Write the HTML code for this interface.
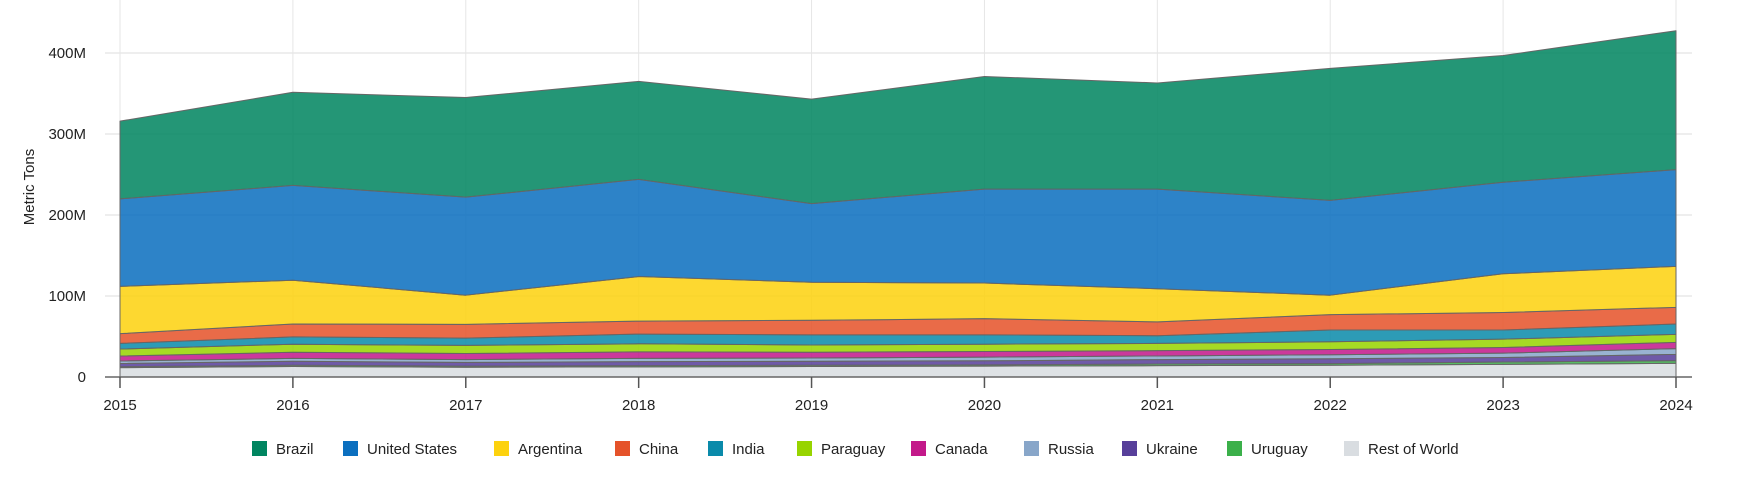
<!DOCTYPE html>
<html><head><meta charset="utf-8"><style>
body{margin:0;background:#fff;font-family:"Liberation Sans",Arial,sans-serif;}
svg text{font-family:"Liberation Sans",Arial,sans-serif;}
</style></head><body>
<svg id="chart" width="1751" height="477">
<g id="grid"></g>
<g id="areas"></g>
<g id="axes"></g>
<text x="34" y="187" transform="rotate(-90 34 187)" text-anchor="middle" font-size="15" fill="#222">Metric Tons</text>
<g id="legend"></g>
</svg>
<script>
const years=[2015,2016,2017,2018,2019,2020,2021,2022,2023,2024];
const seriesNames=["Rest of World","Uruguay","Ukraine","Russia","Canada","Paraguay","India","China","Argentina","United States","Brazil"];
const restOfWorld=[11.5,13,12,12.5,13,13.5,14,14.5,15.6,16.9];
const uruguay=[1.2,1.5,1.5,1.5,1.5,1.5,2,2,2.9,3.3];
const ukraine=[4,5,4.5,5,5,5,5.5,6,5.5,7.8];
const russia=[3,3.5,3.5,4,4,4.5,4.5,5,5.4,7];
const canada=[6.2,7.5,7.5,8,7,7,6.5,6.5,7,7.8];
const paraguay=[8.6,10,10,10,9,9,9,9.5,10.3,9.9];
const india=[7,9,9,12,12.5,11.5,9.5,14.5,11.3,12.7];
const china=[12,16,17,16,18,20,17,19,21.6,20.6];
const argentina=[58.4,54,36,55,47,44,41,24,47.8,50.6];
const unitedStates=[108,117,121,120,97,116,123,117,113,119.4];
const brazil=[96,115,123,121,129,139,131,163,156.5,171.5];
const seriesValues=[restOfWorld,uruguay,ukraine,russia,canada,paraguay,india,china,argentina,unitedStates,brazil];
const yTicks=[0,100,200,300,400];
const yTickLabels=["0","100M","200M","300M","400M"];
const legendOrder=["Brazil","United States","Argentina","China","India","Paraguay","Canada","Russia","Ukraine","Uruguay","Rest of World"];

const colors={"Brazil":"#008560","United States":"#0b6fbf","Argentina":"#fdd20e","China":"#e5532a","India":"#0a8aaa","Paraguay":"#97d400","Canada":"#c3198a","Russia":"#88a6c9","Ukraine":"#573f9a","Uruguay":"#3bb04a","Rest of World":"#d9dde1"};
const NS="http://www.w3.org/2000/svg";
const X0=120,X1=1676,Y0=377,PX=0.81;
const xs=i=>X0+(X1-X0)*i/(years.length-1);
const ys=v=>Y0-v*PX;
function mk(tag,attrs,parent){const e=document.createElementNS(NS,tag);for(const k in attrs)e.setAttribute(k,attrs[k]);parent.appendChild(e);return e;}
const grid=document.getElementById('grid'),areas=document.getElementById('areas'),axes=document.getElementById('axes'),legend=document.getElementById('legend');
yTicks.forEach((t,i)=>{
 if(t>0){const l=mk('line',{x1:105,x2:1692,y1:ys(t),y2:ys(t),stroke:'#ddd','stroke-width':1},grid);
 
 }
 const tx=mk('text',{x:86,y:ys(t)+5,'text-anchor':'end','font-size':15,fill:'#222'},axes);tx.textContent=yTickLabels[i];
 
 
});
years.forEach((y,i)=>{
 const l=mk('line',{x1:xs(i),x2:xs(i),y1:0,y2:Y0,stroke:'#e6e6e6','stroke-width':1},grid);
 
 
});
const cum=years.map(()=>0);
seriesNames.forEach((name,si)=>{
 const vals=seriesValues[si];
 const bottom=cum.slice();
 vals.forEach((v,i)=>cum[i]+=v);
 let d='M'+years.map((_,i)=>xs(i)+','+ys(cum[i])).join(' L');
 for(let i=years.length-1;i>=0;i--)d+=' L'+xs(i)+','+ys(bottom[i]);
 d+='Z';
 const p=mk('path',{d:d,fill:colors[name],'fill-opacity':0.86,stroke:'#666','stroke-width':1,'stroke-linejoin':'round'},areas);
 
 
});
const ax=mk('line',{x1:105,x2:1692,y1:Y0,y2:Y0,stroke:'#666','stroke-width':1.5},axes);


years.forEach((y,i)=>{
 const t=mk('line',{x1:xs(i),x2:xs(i),y1:Y0,y2:Y0+11,stroke:'#555','stroke-width':1.5},axes);
 
 
 const tx=mk('text',{x:xs(i),y:410,'text-anchor':'middle','font-size':15,fill:'#222'},axes);tx.textContent=y;
 
 
});
const legX=[252,343,494,615,708,797,911,1024,1122,1227,1344];
legendOrder.forEach((name,i)=>{
 const g=mk('g',{},legend);
 
 
 mk('rect',{x:legX[i],y:441,width:15,height:15,fill:colors[name]},g);
 const tx=mk('text',{x:legX[i]+24,y:454,'font-size':15,fill:'#222'},g);tx.textContent=name;
});
</script>
</body></html>
